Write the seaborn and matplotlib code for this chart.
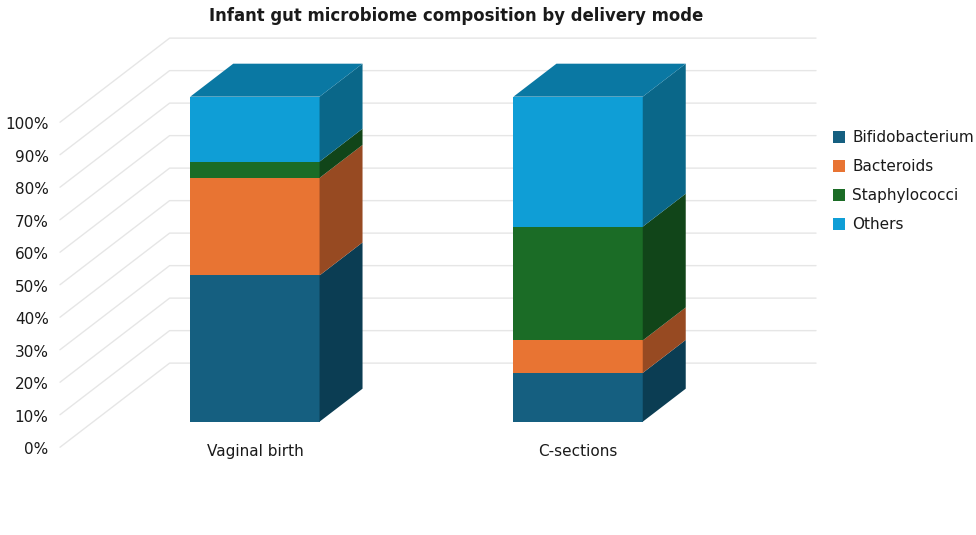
import pandas as pd
import matplotlib
matplotlib.use('Agg')
import matplotlib.pyplot as plt
from matplotlib.patches import Polygon, Patch
import seaborn as sns

# data (percent of gut microbiome)
modes = ['Vaginal birth', 'C-sections']
taxa = ['Bifidobacterium', 'Bacteroids', 'Staphylococci', 'Others']
bifido = [45, 15]
bacteroids = [30, 10]
staph = [5, 35]
others = [20, 40]
pct_ticks = list(range(0, 101, 10))

front_colors = ['#155f80', '#e87433', '#1b6c26', '#0f9ed6']
side_colors = ['#0b3d53', '#974a22', '#114519', '#0a6789']
top_color = '#0a78a3'
grid_color = '#e6e6e6'
text_color = '#1a1a1a'

# fake 3d: one bar depth expressed in x units / percent units
DX, DY = 0.133, 10.15
Z_FRONT, Z_BACK = -0.775, 1.775
X_LEFT, X_RIGHT = -0.5, 1.5

sns.set_theme(style='white')
plt.rcParams['font.family'] = ['DejaVu Sans']

df = pd.DataFrame({'mode': modes, 'Bifidobacterium': bifido, 'Bacteroids': bacteroids,
                   'Staphylococci': staph, 'Others': others})
stack = df[taxa].cumsum(axis=1)
stack['mode'] = df['mode']

fig = plt.figure(figsize=(9.76, 5.35), dpi=100)
ax = fig.add_axes([0.0956, 0.2118, 0.6623, 0.6075])
ax.set_facecolor('none')

# walls: diagonal lines on the left, horizontal lines on the back
for p in pct_ticks:
    ax.plot([X_LEFT + Z_FRONT * DX, X_LEFT + Z_BACK * DX, X_RIGHT + Z_BACK * DX],
            [p + Z_FRONT * DY, p + Z_BACK * DY, p + Z_BACK * DY],
            color=grid_color, lw=1, clip_on=False, zorder=0)
    ax.text(X_LEFT + Z_FRONT * DX - 0.035, p + Z_FRONT * DY - 0.8, f'{p}%',
            ha='right', va='center', fontsize=11, color=text_color)

# front faces, tallest cumulative first so lower segments sit on top
for k in reversed(range(len(taxa))):
    sns.barplot(data=stack, x='mode', y=taxa[k], color=front_colors[k], saturation=1,
                width=0.4, errorbar=None, linewidth=0, ax=ax, zorder=2)

# side and top faces from the bar geometry
n = len(modes)
for i, bar in enumerate(ax.patches[:n]):
    x0 = bar.get_x()
    x1 = x0 + bar.get_width()
    bottom = 0
    for k, t in enumerate(taxa):
        top = stack[t].iloc[i]
        side = Polygon([(x1, bottom), (x1 + DX, bottom + DY), (x1 + DX, top + DY), (x1, top)],
                       closed=True, facecolor=side_colors[k], edgecolor='none', zorder=2, clip_on=False)
        ax.add_patch(side)
        bottom = top
    lid = Polygon([(x0, bottom), (x0 + DX, bottom + DY), (x1 + DX, bottom + DY), (x1, bottom)],
                  closed=True, facecolor=top_color, edgecolor='none', zorder=2, clip_on=False)
    ax.add_patch(lid)

ax.set_xlim(X_LEFT, X_RIGHT)
ax.set_ylim(0, 100)
ax.set_yticks([])
ax.set_xlabel('')
ax.set_ylabel('')
ax.tick_params(axis='x', length=0, pad=16, labelsize=11, labelcolor=text_color)
sns.despine(ax=ax, left=True, bottom=True)

fig.text(456 / 976, 1 - 16 / 535, 'Infant gut microbiome composition by delivery mode',
         ha='center', va='center', fontsize=11.9, fontweight='bold', color=text_color)

handles = [Patch(facecolor=c, edgecolor='none', label=t) for c, t in zip(front_colors, taxa)]
fig.legend(handles=handles, loc='upper left', bbox_to_anchor=(833 / 976, 1 - 130 / 535),
           frameon=False, fontsize=11, handlelength=0.8, handleheight=0.8,
           handletextpad=0.45, labelspacing=0.92, borderaxespad=0, borderpad=0,
           labelcolor=text_color)

fig.savefig('out.png', dpi=100)
